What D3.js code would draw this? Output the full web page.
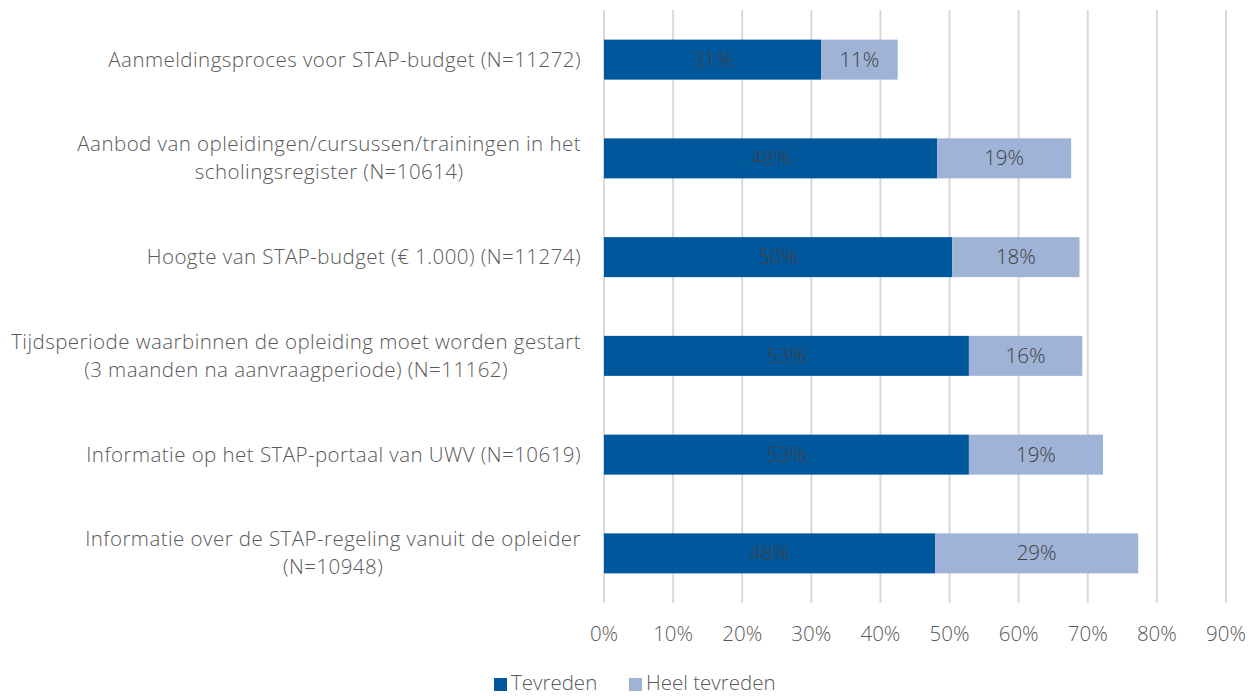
<!DOCTYPE html>
<html><head><meta charset="utf-8">
<script src="https://cdn.jsdelivr.net/npm/d3@7"></script>
<style>body{margin:0;background:#fff;}svg{display:block;font-family:"Open Sans", Lato, sans-serif;font-weight:300;}</style>
</head><body>
<svg id="c" width="1256" height="696"></svg>
<script>
const categories = [
  ["Aanmeldingsproces voor STAP-budget (N=11272)"],
  ["Aanbod van opleidingen/cursussen/trainingen in het", "scholingsregister (N=10614)"],
  ["Hoogte van STAP-budget (€ 1.000) (N=11274)"],
  ["Tijdsperiode waarbinnen de opleiding moet worden gestart", "(3 maanden na aanvraagperiode) (N=11162)"],
  ["Informatie op het STAP-portaal van UWV (N=10619)"],
  ["Informatie over de STAP-regeling vanuit de opleider", "(N=10948)"]
];
const tevreden = [31.4, 48.2, 50.4, 52.8, 52.8, 47.9];
const heelTevreden = [11.1, 19.4, 18.4, 16.4, 19.4, 29.4];
const seriesNames = ["Tevreden", "Heel tevreden"];
const ticks = [0,10,20,30,40,50,60,70,80,90];

const colors = ["#00579C", "#9FB3D7"];
const FS = 20.5;
const LS = 0.45;
const svg = d3.select("#c");
const m = {l:604, r:1226, t:10, b:603};
const x = d3.scaleLinear().domain([0,90]).range([m.l, m.r]);
const y = d3.scaleBand().domain(d3.range(categories.length)).range([m.t, m.b]).paddingInner(0.595).paddingOuter(0.3);

// grid
svg.append("g").selectAll("line").data(ticks).join("line")
  .attr("x1", d=>x(d)).attr("x2", d=>x(d)).attr("y1", m.t).attr("y2", m.b)
  .attr("stroke", "#d9d9d9").attr("stroke-width", 2);

// tick labels
svg.append("g").selectAll("text").data(ticks).join("text")
  .attr("x", d=>x(d)).attr("y", 641).attr("text-anchor","middle")
  .attr("fill","#595959").attr("font-size", FS).text(d=>d+"%");

// bars
const stack = categories.map((c,i)=>({i, a:tevreden[i], b:heelTevreden[i]}));
const g = svg.append("g");
g.selectAll(".a").data(stack).join("rect")
  .attr("x", x(0)).attr("y", d=>y(d.i)).attr("width", d=>x(d.a)-x(0)).attr("height", y.bandwidth())
  .attr("fill", colors[0]);
g.selectAll(".b").data(stack).join("rect")
  .attr("x", d=>x(d.a)).attr("y", d=>y(d.i)).attr("width", d=>x(d.a+d.b)-x(d.a)).attr("height", y.bandwidth())
  .attr("fill", colors[1]);
g.selectAll(".la").data(stack).join("text")
  .attr("x", d=>(x(0)+x(d.a))/2).attr("y", d=>y(d.i)+y.bandwidth()/2+7)
  .attr("text-anchor","middle").attr("fill","#404040").attr("font-size",FS)
  .text(d=>Math.round(d.a)+"%");
g.selectAll(".lb").data(stack).join("text")
  .attr("x", d=>(x(d.a)+x(d.a+d.b))/2).attr("y", d=>y(d.i)+y.bandwidth()/2+7)
  .attr("text-anchor","middle").attr("fill","#404040").attr("font-size",FS)
  .text(d=>Math.round(d.b)+"%");

// category labels: block right-aligned at 581, lines centred within block
const cl = svg.append("g");
categories.forEach((lines,i)=>{
  const cy = y(i)+y.bandwidth()/2;
  const n = lines.length;
  const ts = lines.map((t,j)=> cl.append("text").attr("y", cy + (j-(n-1)/2)*28 + 7)
      .attr("text-anchor","middle").attr("fill","#595959").attr("font-size",FS)
      .attr("letter-spacing", LS).text(t));
  const w = d3.max(ts, t=>t.node().getComputedTextLength());
  ts.forEach(t=>t.attr("x", 581 - w/2));
});

// legend
const leg = svg.append("g");
const lx = [494, 629];
seriesNames.forEach((s,i)=>{
  leg.append("rect").attr("x", lx[i]).attr("y", 678).attr("width", 13).attr("height", 13).attr("fill", colors[i]);
  leg.append("text").attr("x", lx[i]+17).attr("y", 690).attr("fill","#595959").attr("font-size",FS).text(s);
});
</script>
</body></html>
